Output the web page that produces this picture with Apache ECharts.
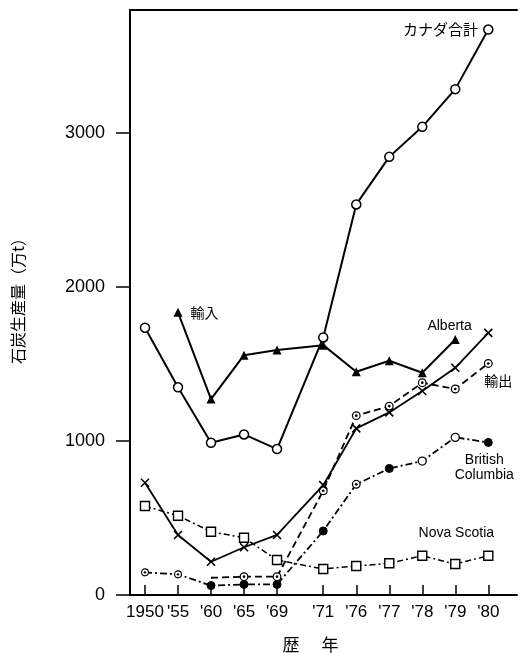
<!DOCTYPE html>
<html><head><meta charset="utf-8">
<script src="https://cdn.jsdelivr.net/npm/echarts@6/dist/echarts.min.js"></script>
<style>html,body{margin:0;padding:0;background:#fff}#c{width:520px;height:653px}</style>
</head><body><div id="c"></div>
<script>
// ---- data ----
const years = ["1950", "'55", "'60", "'65", "'69", "'71", "'76", "'77", "'78", "'79", "'80"];
const canadaTotal = [1736, 1349, 989, 1043, 948, 1673, 2537, 2846, 3041, 3286, 3673];
const imports = [null, 1836, 1273, 1558, 1591, 1623, 1450, 1522, 1444, 1660, null];
const alberta = [729, 390, 216, 310, 390, 714, 1082, 1186, 1325, 1476, 1703];
const exportsCoal = [null, null, 112, 119, 119, 677, 1165, 1227, 1379, 1338, 1504];
const britishColumbia = [147, 134, 61, 69, 69, 416, 719, 822, 870, 1024, 991];
const novaScotia = [578, 515, 411, 372, 227, 169, 188, 206, 255, 201, 255];
const yTicks = [0, 1000, 2000, 3000];

// ---- axis layout (ordinal slots with a wider gap between '69 and '71) ----
const slot = [0, 1, 2, 3, 4, 5.4, 6.4, 7.4, 8.4, 9.4, 10.4];

const FONT = 'Liberation Sans';
const CJK = 'Noto Sans CJK JP';
const svgDot = 'image://data:image/svg+xml;utf8,' + encodeURIComponent(
  "<svg xmlns='http://www.w3.org/2000/svg' width='12' height='12'><circle cx='6' cy='6' r='4.6' fill='white' stroke='black' stroke-width='1.5'/><circle cx='6' cy='6' r='1.6' fill='black'/></svg>");
const crossPath = 'path://M0,0L10,10M10,0L0,10';

function build(arr, perPoint) {
  const out = [];
  arr.forEach((v, i) => {
    if (v == null) return;
    const item = { value: [slot[i], v] };
    if (perPoint && perPoint[i]) Object.assign(item, perPoint[i]);
    out.push(item);
  });
  return out;
}
function lbl(text, extra) {
  return { label: Object.assign({ show: true, formatter: text, color: '#000', fontSize: 14, fontFamily: FONT }, extra) };
}

const bcSym = { 0: { symbol: svgDot, symbolSize: 9 }, 1: { symbol: svgDot, symbolSize: 9 },
  6: { symbol: svgDot, symbolSize: 10 },
  8: { symbol: 'circle', itemStyle: { color: '#fff', borderColor: '#000', borderWidth: 1.3 } },
  9: { symbol: 'circle', itemStyle: { color: '#fff', borderColor: '#000', borderWidth: 1.3 } } };
bcSym[10] = Object.assign({}, lbl('British\nColumbia', { position: 'bottom', distance: 6, offset: [-4, 0], lineHeight: 15, align: 'center' }));

const option = {
  animation: false,
  backgroundColor: '#fff',
  grid: { left: 130, right: 3, top: 10, bottom: 58, show: false },
  xAxis: [{
    type: 'value', min: -0.4545, max: 11.27,
    axisLine: { show: true, onZero: false, lineStyle: { color: '#000', width: 2 } },
    axisTick: { show: true, inside: true, length: 10, customValues: slot, lineStyle: { color: '#000', width: 1.5 } },
    axisLabel: { customValues: slot, margin: 9, color: '#000', fontSize: 17, fontFamily: FONT,
      formatter: v => { const i = slot.indexOf(v); return i >= 0 ? years[i] : ''; } },
    splitLine: { show: false }
  }, {
    type: 'value', position: 'top', min: -0.4545, max: 11.27,
    axisLine: { show: true, onZero: false, lineStyle: { color: '#000', width: 2 } },
    axisTick: { show: false }, axisLabel: { show: false }, splitLine: { show: false }
  }],
  yAxis: {
    type: 'value', min: 0, max: 3800,
    axisLine: { show: true, onZero: false, lineStyle: { color: '#000', width: 2 } },
    axisTick: { show: true, inside: false, length: 14, customValues: yTicks, lineStyle: { color: '#000', width: 1.5 } },
    axisLabel: { customValues: yTicks, margin: 25, color: '#000', fontSize: 18, fontFamily: FONT,
      formatter: v => String(v) },
    splitLine: { show: false }
  },
  graphic: [
    { type: 'text', x: 18, y: 297, rotation: Math.PI / 2,
      style: { text: '石炭生産量（万t）', fontSize: 16, fontFamily: CJK, fill: '#000', align: 'center', verticalAlign: 'middle' } },
    { type: 'text', x: 291, y: 645, style: { text: '歴', fontSize: 17, fontFamily: CJK, fill: '#000', align: 'center', verticalAlign: 'middle' } },
    { type: 'text', x: 330, y: 645, style: { text: '年', fontSize: 17, fontFamily: CJK, fill: '#000', align: 'center', verticalAlign: 'middle' } }
  ],
  series: [
    { name: 'カナダ合計', type: 'line', z: 5,
      data: build(canadaTotal, { 10: lbl('カナダ合計', { position: 'left', distance: 5, fontSize: 15, fontFamily: CJK }) }),
      symbol: 'circle', symbolSize: 9,
      itemStyle: { color: '#fff', borderColor: '#000', borderWidth: 1.5 },
      lineStyle: { color: '#000', width: 2 } },
    { name: '輸入', type: 'line', z: 4,
      data: build(imports, { 1: lbl('輸入', { position: 'right', distance: 8, fontSize: 14, fontFamily: CJK }) }),
      symbol: 'triangle', symbolSize: 9,
      itemStyle: { color: '#000' },
      lineStyle: { color: '#000', width: 2 } },
    { name: 'Alberta', type: 'line', z: 4,
      data: build(alberta, { 10: lbl('Alberta', { position: 'left', distance: 10, offset: [0, -7] }) }),
      symbol: crossPath, symbolSize: 8,
      itemStyle: { color: 'none', borderColor: '#000', borderWidth: 1.6 },
      lineStyle: { color: '#000', width: 1.8 } },
    { name: '輸出', type: 'line', z: 3,
      data: build(exportsCoal, { 2: { symbol: 'none' }, 10: lbl('輸出', { position: 'bottom', distance: 5, offset: [10, 0], fontSize: 14, fontFamily: CJK }) }),
      symbol: svgDot, symbolSize: 10,
      lineStyle: { color: '#000', width: 1.8, type: [7, 4] } },
    { name: 'British Columbia', type: 'line', z: 3,
      data: build(britishColumbia, bcSym),
      symbol: 'circle', symbolSize: 8,
      itemStyle: { color: '#000', borderColor: '#000' },
      lineStyle: { color: '#000', width: 1.8, type: [7, 3, 2, 3] } },
    { name: 'Nova Scotia', type: 'line', z: 3,
      data: build(novaScotia, { 10: lbl('Nova Scotia', { position: 'top', distance: 6, offset: [-32, -4] }) }),
      symbol: 'rect', symbolSize: 9,
      itemStyle: { color: '#fff', borderColor: '#000', borderWidth: 1.4 },
      lineStyle: { color: '#000', width: 1.5, type: [6, 3, 2, 3] } }
  ]
};
const chart = echarts.init(document.getElementById('c'), null, { renderer: 'canvas' });
chart.setOption(option);
</script>
</body></html>
